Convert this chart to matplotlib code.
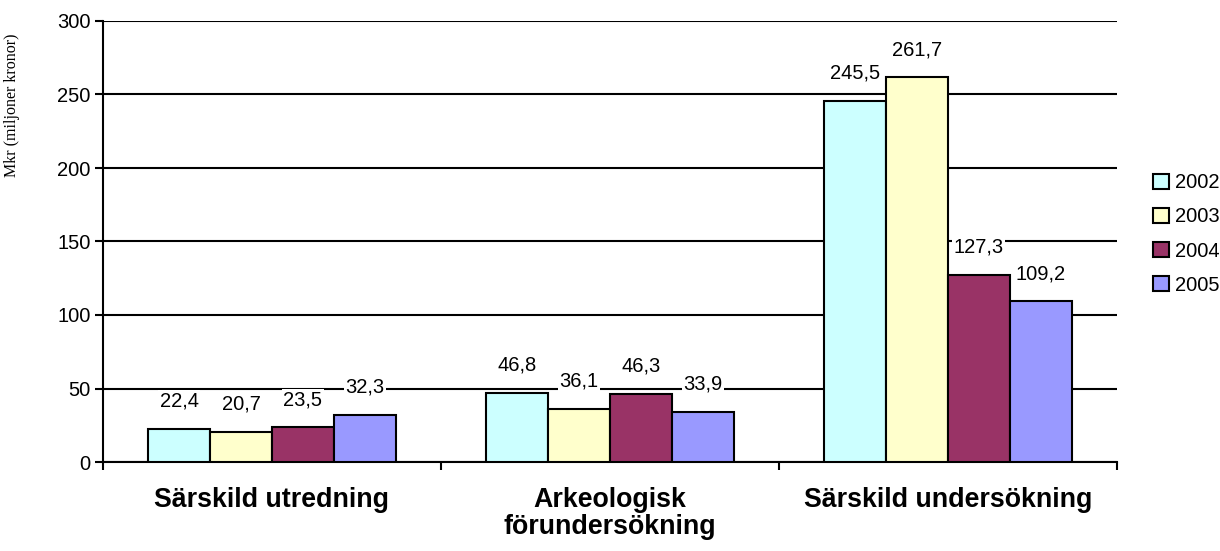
import matplotlib
matplotlib.use("Agg")
import matplotlib.pyplot as plt
import numpy as np
from matplotlib.patches import Patch

categories = ["Särskild utredning", "Arkeologisk\nförundersökning", "Särskild undersökning"]
years = ["2002", "2003", "2004", "2005"]
values = {
    "2002": [22.4, 46.8, 245.5],
    "2003": [20.7, 36.1, 261.7],
    "2004": [23.5, 46.3, 127.3],
    "2005": [32.3, 33.9, 109.2],
}
colors = ["#CCFFFF", "#FFFFCC", "#993366", "#9999FF"]
yticks = [0, 50, 100, 150, 200, 250, 300]

plt.rcParams['font.family'] = ['Liberation Sans', 'DejaVu Sans']
fig = plt.figure(figsize=(12.2, 5.51), dpi=100)
ax = fig.add_axes([103/1220, 1-462/551, (1117-103)/1220, (462-21)/551])

x = np.arange(len(categories))
bw = 0.183
for i, (yr, c) in enumerate(zip(years, colors)):
    pos = x + (i - 1.5) * bw
    ax.bar(pos, values[yr], width=bw, color=c, edgecolor='black', linewidth=1.5, zorder=3)
    for p, v in zip(pos, values[yr]):
        ax.annotate(f"{v:.1f}".replace('.', ','), (p, v), xytext=(0, 20), textcoords='offset points',
                    ha='center', va='center', fontsize=14.5, zorder=4,
                    bbox=dict(facecolor='white', edgecolor='none', pad=1.0))

ax.set_xlim(-0.5, 2.5)
ax.set_ylim(0, 300)
ax.set_yticks(yticks)
ax.set_yticklabels([str(t) for t in yticks], fontsize=14.5)
ax.yaxis.grid(True, color='black', linewidth=1.5, zorder=0)
ax.set_axisbelow(True)
ax.set_xticks([-0.5, 0.5, 1.5, 2.5])
ax.set_xticklabels([])
ax.set_xticks(x, minor=True)
ax.set_xticklabels(categories, minor=True, fontsize=19.3, fontweight='bold', linespacing=1.05)
ax.tick_params(axis='x', which='minor', length=0, pad=18)
ax.tick_params(axis='x', which='major', direction='out', length=6, width=1.5)
ax.tick_params(axis='y', direction='out', length=6, width=1.5, pad=3)
for s in ['top', 'right']:
    ax.spines[s].set_visible(False)
for s in ['left', 'bottom']:
    ax.spines[s].set_linewidth(1.5)

fig.text(12/1220, 1-105/551, "Mkr (miljoner kronor)", family=['Liberation Serif'], fontsize=11.5,
         rotation=90, ha='center', va='center')

handles = [Patch(facecolor=c, edgecolor='black', linewidth=1.5) for c in colors]
fig.legend(handles, years, loc='center left', bbox_to_anchor=(1145/1220, 1-234/551),
           frameon=False, fontsize=14.5, handlelength=0.8, handleheight=0.8,
           handletextpad=0.3, labelspacing=0.75, borderaxespad=0)

fig.savefig("out.png", dpi=100)
